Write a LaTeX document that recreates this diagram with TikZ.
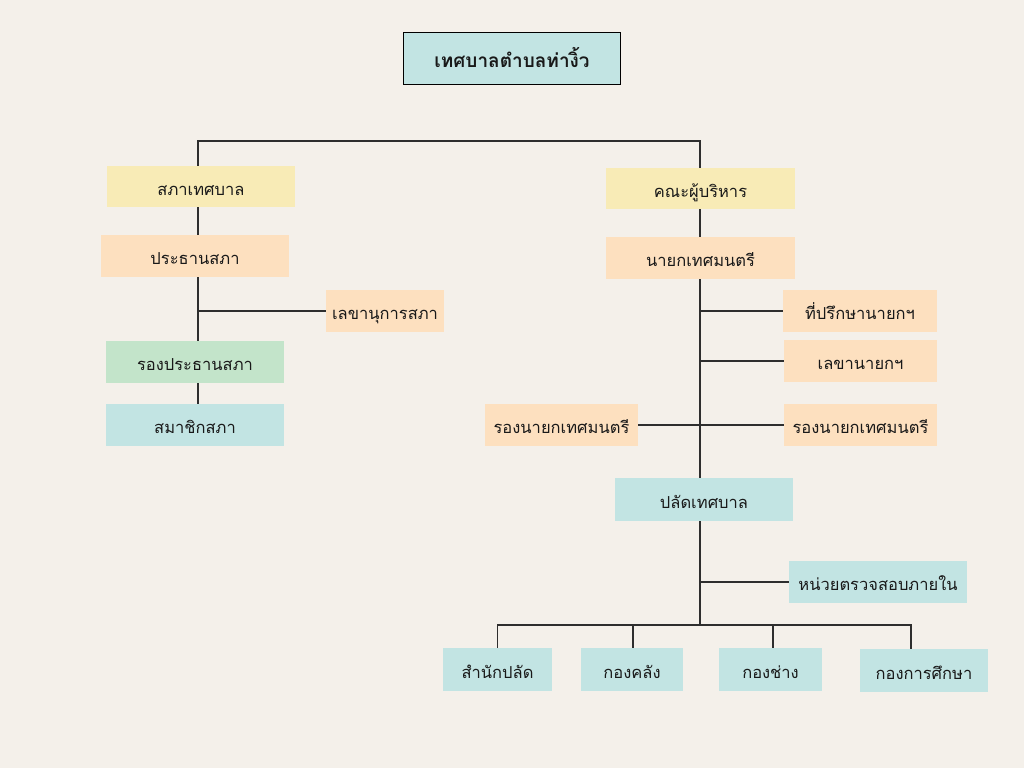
\documentclass[tikz,border=0pt]{standalone}
\usepackage{fontspec}
\newfontfamily\thaifont[Script=Thai]{Loma}
\pgfdeclarelayer{back}
\pgfdeclarelayer{lines}
\pgfsetlayers{back,lines,main}
\definecolor{bgc}{HTML}{F4F0EA}
\definecolor{yel}{HTML}{F8EBB6}
\definecolor{pch}{HTML}{FDE0BF}
\definecolor{grn}{HTML}{C3E4CA}
\definecolor{tea}{HTML}{C2E4E3}
\definecolor{lnc}{HTML}{2E2E2E}
\tikzset{
  box/.style={rectangle, inner sep=0pt, text height=19pt, text depth=1.5pt, font=\thaifont\fontsize{16.5}{19}\selectfont, text=black!90},
  conn/.style={draw=lnc, line width=1.15pt},
}
\newcommand{\bx}[7]{\node[box, fill=#6, minimum width={(#3-#1)*1pt}, minimum height={(#4-#2)*1pt}] (#5) at ({(#1+#3)/2},{(#2+#4)/2}) {#7};}
\begin{document}
\begin{tikzpicture}[x=1pt,y=-1pt]
\begin{pgfonlayer}{back}
\fill[bgc] (0,0) rectangle (1024,768);
\end{pgfonlayer}
\useasboundingbox (0,0) rectangle (1024,768);

\node[box, fill=tea, draw=black, line width=1.8pt, minimum width=217pt, minimum height=52pt, text height=20pt, text depth=3pt, font=\thaifont\bfseries\fontsize{19}{22}\selectfont] (title) at (512,58.5) {เทศบาลตำบลท่างิ้ว};

\bx{107}{166}{295}{207}{sapha}{yel}{สภาเทศบาล}
\bx{606}{168}{795}{209}{khana}{yel}{คณะผู้บริหาร}
\bx{101}{235}{289}{277}{prathan}{pch}{ประธานสภา}
\bx{606}{237}{795}{279}{nayok}{pch}{นายกเทศมนตรี}
\bx{326}{290}{444}{332}{lekhasapha}{pch}{เลขานุการสภา}
\bx{106}{341}{284}{383}{rongprathan}{grn}{รองประธานสภา}
\bx{106}{404}{284}{446}{samachik}{tea}{สมาชิกสภา}
\bx{783}{290}{937}{332}{thiprueksa}{pch}{ที่ปรึกษานายกฯ}
\bx{784}{340}{937}{382}{lekhanayok}{pch}{เลขานายกฯ}
\bx{485}{404}{638}{446}{rongL}{pch}{รองนายกเทศมนตรี}
\bx{784}{404}{937}{446}{rongR}{pch}{รองนายกเทศมนตรี}
\bx{615}{478}{793}{521}{palat}{tea}{ปลัดเทศบาล}
\bx{789}{561}{967}{603}{truat}{tea}{หน่วยตรวจสอบภายใน}
\bx{443}{648}{552}{691}{samnak}{tea}{สำนักปลัด}
\bx{581}{648}{683}{691}{khlang}{tea}{กองคลัง}
\bx{719}{648}{822}{691}{chang}{tea}{กองช่าง}
\bx{860}{649}{988}{692}{suksa}{tea}{กองการศึกษา}

\coordinate (topL) at (198,141);
\coordinate (topR) at (700,141);
\coordinate (bar) at (700,625);
\coordinate (d2) at (633,625);
\coordinate (d3) at (773,625);
\coordinate (d4) at (911,625);

\begin{pgfonlayer}{lines}
\draw[conn] (topL |- sapha.north) -- (topL) -- (topR) -- (topR |- khana.north);
\draw[conn] (topL) -- (topL |- samachik.north);
\draw[conn] (topL |- lekhasapha.west) -- (lekhasapha.west);
\draw[conn] (topR) -- (topR |- palat.north);
\draw[conn] (topR |- thiprueksa.west) -- (thiprueksa.west);
\draw[conn] (topR |- lekhanayok.west) -- (lekhanayok.west);
\draw[conn] (rongL.east) -- (rongR.west);
\draw[conn] (bar |- palat.south) -- (bar);
\draw[conn] (bar |- truat.west) -- (truat.west);
\draw[conn] (samnak.north) |- (d4) -- (d4 |- suksa.north);
\draw[conn] (d2) -- (d2 |- khlang.north);
\draw[conn] (d3) -- (d3 |- chang.north);
\end{pgfonlayer}
\end{tikzpicture}
\end{document}
